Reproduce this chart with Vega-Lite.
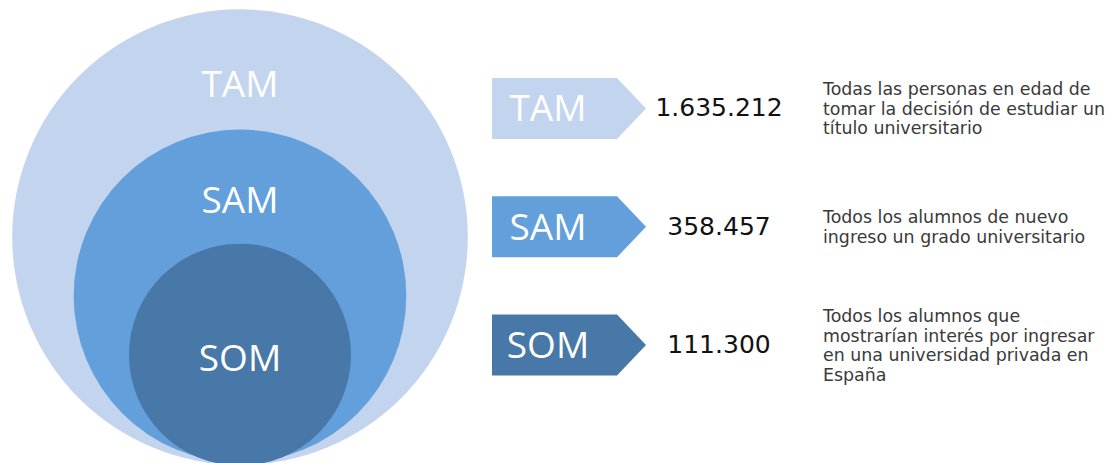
{
  "$schema": "https://vega.github.io/schema/vega-lite/v6.json",
  "padding": 0,
  "background": "white",
  "spacing": 0,
  "bounds": "flush",
  "config": {
    "view": {"stroke": null},
    "locale": {"number": {"decimal": ",", "thousands": ".", "grouping": [3], "currency": ["", " €"]}}
  },
  "data": {
    "values": [
      {"segment": "TAM", "value": 1635212, "desc": ["Todas las personas en edad de", "tomar la decisión de estudiar un", "título universitario"]},
      {"segment": "SAM", "value": 358457, "desc": ["Todos los alumnos de nuevo", "ingreso un grado universitario"]},
      {"segment": "SOM", "value": 111300, "desc": ["Todos los alumnos que", "mostrarían interés por ingresar", "en una universidad privada en", "España"]}
    ]
  },
  "hconcat": [
    {
      "width": 480,
      "height": 463,
      "layer": [
        {
          "mark": {"type": "point", "shape": "circle", "filled": true, "opacity": 1},
          "encoding": {
            "y": {"field": "segment", "type": "nominal", "axis": null,
                  "scale": {"type": "point", "domain": ["TAM", "SAM", "SOM"], "padding": 0, "range": [237.1, 354.7]}},
            "size": {"field": "value", "type": "quantitative", "legend": null,
                     "scale": {"type": "threshold", "domain": [200000, 1000000], "range": [49284, 110625, 207571]}},
            "color": {"field": "segment", "type": "nominal", "legend": null,
                      "scale": {"domain": ["TAM", "SAM", "SOM"], "range": ["#C3D4EE", "#629FDB", "#4878A8"]}}
          }
        },
        {
          "transform": [{"filter": "datum.segment !== 'SOM'"}],
          "mark": {"type": "text", "font": "Open Sans", "fontSize": 37, "fill": "#ffffff", "align": "center", "baseline": "middle"},
          "encoding": {
            "y": {"field": "segment", "type": "nominal", "axis": null,
                  "scale": {"type": "point", "domain": ["TAM", "SAM"], "padding": 0, "range": [86.4, 202]}},
            "text": {"field": "segment", "type": "nominal"}
          }
        },
        {
          "transform": [{"filter": "datum.segment === 'SOM'"}],
          "mark": {"type": "text", "font": "Open Sans", "fontSize": 37, "fill": "#ffffff", "align": "center", "baseline": "middle"},
          "encoding": {
            "y": {"field": "segment", "type": "nominal", "axis": null,
                  "scale": {"type": "point", "domain": ["SOM"], "padding": 1, "align": 0.7786}},
            "text": {"field": "segment", "type": "nominal"}
          }
        }
      ],
      "resolve": {"scale": {"y": "independent"}}
    },
    {
      "width": 136,
      "height": 463,
      "layer": [
        {
          "mark": {"type": "point", "shape": "M-0.56,-0.305L0.69,-0.305L0.98,0L0.69,0.305L-0.56,0.305Z", "filled": true, "opacity": 1, "size": 40000},
          "encoding": {
            "y": {"field": "segment", "type": "nominal", "axis": null,
                  "scale": {"type": "point", "domain": ["TAM", "SAM", "SOM"], "padding": 0.9577, "align": 0.479}},
            "color": {"field": "segment", "type": "nominal", "legend": null,
                      "scale": {"domain": ["TAM", "SAM", "SOM"], "range": ["#C3D4EE", "#629FDB", "#4878A8"]}}
          }
        },
        {
          "mark": {"type": "text", "font": "Open Sans", "fontSize": 37, "fill": "#ffffff", "align": "center", "baseline": "middle", "dy": 2},
          "encoding": {
            "y": {"field": "segment", "type": "nominal", "axis": null,
                  "scale": {"type": "point", "domain": ["TAM", "SAM", "SOM"], "padding": 0.9577, "align": 0.479}},
            "text": {"field": "segment", "type": "nominal"}
          }
        }
      ]
    },
    {
      "width": 206,
      "height": 463,
      "mark": {"type": "text", "font": "DejaVu Sans", "fontSize": 25, "fill": "#111111", "align": "center", "baseline": "middle"},
      "encoding": {
        "y": {"field": "segment", "type": "nominal", "axis": null,
              "scale": {"type": "point", "domain": ["TAM", "SAM", "SOM"], "padding": 0.9577, "align": 0.479}},
        "text": {"field": "value", "type": "quantitative", "format": ",d"}
      }
    },
    {
      "width": 2,
      "height": 463,
      "mark": {"type": "text", "font": "DejaVu Sans", "fontSize": 17.4, "lineHeight": 19.5, "fill": "#3a3a3a", "align": "left", "baseline": "middle",
               "dy": {"expr": "1.5 - 9.75 * (length(datum.desc) - 1)"}},
      "encoding": {
        "y": {"field": "segment", "type": "nominal", "axis": null,
              "scale": {"type": "point", "domain": ["TAM", "SAM", "SOM"], "padding": 0.9577, "align": 0.479}},
        "text": {"field": "desc", "type": "nominal"}
      }
    }
  ]
}
